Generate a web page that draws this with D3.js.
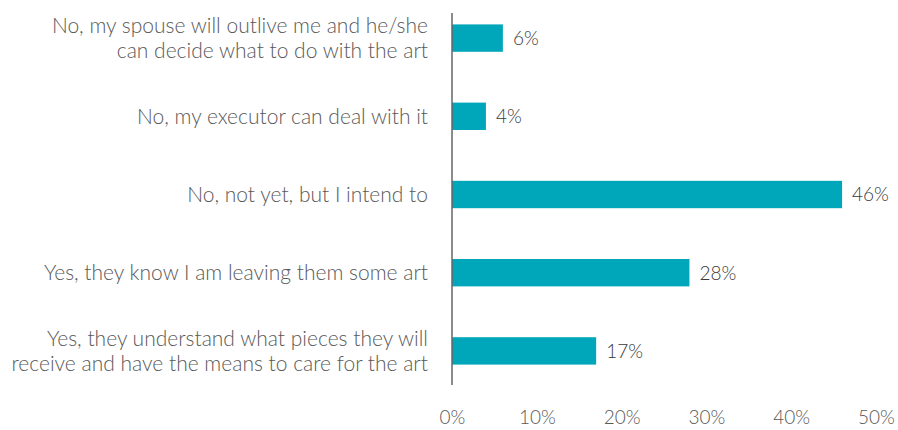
<!DOCTYPE html>
<html>
<head>
<meta charset="utf-8">
<script src="https://cdn.jsdelivr.net/npm/d3@7"></script>
<style>
  body { margin: 0; background: #fff; }
  text { font-family: Lato, "Open Sans", sans-serif; }
</style>
</head>
<body>
<div id="graph"></div>
<script>
// categories top to bottom, each one split into its display lines
var categories = [
    ['No, my spouse will outlive me and he/she', 'can decide what to do with the art'],
    ['No, my executor can deal with it'],
    ['No, not yet, but I intend to'],
    ['Yes, they know I am leaving them some art'],
    ['Yes, they understand what pieces they will', 'receive and have the means to care for the art']
];
var values    = [6, 4, 46, 28, 17];
var tickVals  = [0, 10, 20, 30, 40, 50];

var width  = 898;
var height = 430;

var svg = d3.select('#graph').append('svg')
            .attr('width', width)
            .attr('height', height);

var x = d3.scaleLinear()
          .domain([0, 50])
          .range([452, 876]);

var y = d3.scaleBand()
          .domain(d3.range(categories.length))
          .range([-1, 390])
          .paddingInner(0.65)
          .paddingOuter(0.325);

// bars
svg.selectAll('.bar')
   .data(values)
   .enter()
   .append('rect')
   .attr('class', 'bar')
   .attr('x', x(0))
   .attr('y', function (d, i) { return y(i); })
   .attr('width', function (d) { return x(d) - x(0); })
   .attr('height', y.bandwidth())
   .attr('fill', '#00a6b9');

// value labels
svg.selectAll('.val')
   .data(values)
   .enter()
   .append('text')
   .attr('class', 'val')
   .attr('x', function (d) { return x(d) + 10; })
   .attr('y', function (d, i) { return y(i) + y.bandwidth() / 2; })
   .attr('dy', '0.36em')
   .attr('font-size', 19)
   .attr('font-weight', 300)
   .attr('fill', '#3a3a3a')
   .text(function (d) { return d + '%'; });

// category labels (right aligned, multi line)
var lineH = 25;
svg.selectAll('.cat')
   .data(categories)
   .enter()
   .append('text')
   .attr('class', 'cat')
   .attr('text-anchor', 'end')
   .attr('font-size', 21)
   .attr('font-weight', 300)
   .attr('fill', '#595959')
   .each(function (lines, i) {
       var cy = y(i) + y.bandwidth() / 2;
       var top = cy - (lines.length - 1) * lineH / 2;
       d3.select(this).selectAll('tspan')
         .data(lines)
         .enter()
         .append('tspan')
         .attr('x', 428)
         .attr('y', function (l, j) { return top + j * lineH; })
         .attr('dy', '0.36em')
         .text(function (l) { return l; });
   });

// vertical axis line
svg.append('line')
   .attr('x1', x(0)).attr('x2', x(0))
   .attr('y1', 13).attr('y2', 385)
   .attr('stroke', '#666')
   .attr('stroke-width', 1.5);

// x axis tick labels, no domain line
var xAxis = d3.axisBottom(x)
              .tickValues(tickVals)
              .tickSize(0)
              .tickFormat(function (d) { return d + '%'; });

var gx = svg.append('g')
            .attr('transform', 'translate(0,' + 407 + ')')
            .call(xAxis);
gx.select('.domain').remove();
gx.selectAll('text')
  .attr('font-family', 'Lato, "Open Sans", sans-serif')
  .attr('font-size', 19)
  .attr('font-weight', 300)
  .attr('fill', '#595959');
</script>
</body>
</html>
